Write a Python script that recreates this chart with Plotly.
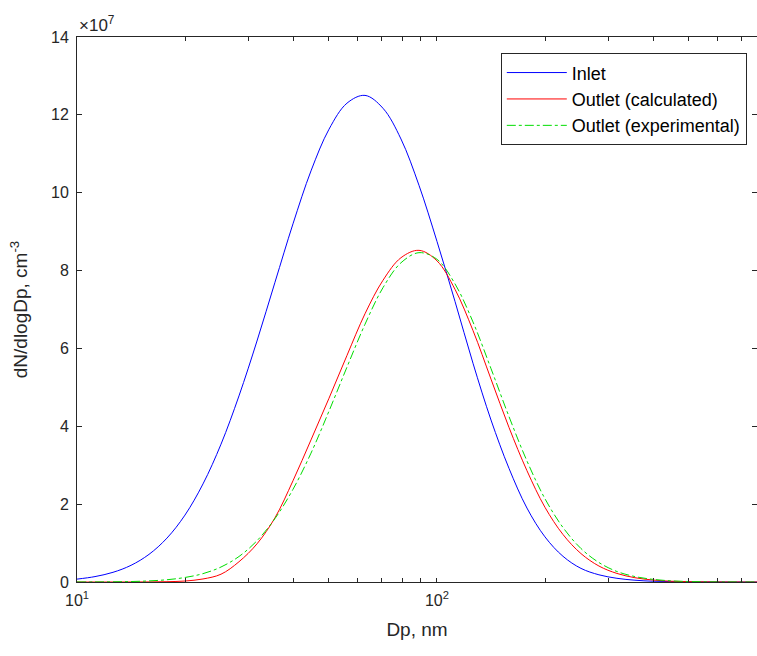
import plotly.graph_objects as go

# particle diameter, nm (log-spaced samples)
dp = [10.0, 11.22, 12.59, 14.13, 15.85, 17.78, 19.95, 22.39, 25.12, 28.18,
      31.62, 35.48, 39.81, 44.67, 50.12, 56.23, 63.10, 70.79, 79.43, 89.13,
      100.0, 112.2, 125.9, 141.3, 158.5, 177.8, 199.5, 223.9, 251.2, 281.8,
      316.2, 354.8, 398.1, 446.7, 501.2, 562.3, 631.0, 707.9, 794.3]

# dN/dlogDp in units of 1e7 cm^-3
inlet = [0.074, 0.139, 0.249, 0.429, 0.710, 1.128, 1.719, 2.52, 3.54, 4.78,
         6.19, 7.70, 9.20, 10.56, 11.63, 12.30, 12.50, 12.17, 11.38, 10.19,
         8.75, 7.21, 5.62, 4.16, 2.92, 1.90, 1.16, 0.66, 0.35, 0.185,
         0.095, 0.046, 0.02, 0.01, 0.005, 0.002, 0.001, 0.0, 0.0]

outlet_calc = [0.0, 0.0, 0.0, 0.001, 0.002, 0.008, 0.025, 0.078, 0.20, 0.52,
               0.98, 1.65, 2.60, 3.65, 4.72, 5.82, 6.89, 7.75, 8.33, 8.52,
               8.25, 7.52, 6.46, 5.21, 3.97, 2.86, 1.92, 1.22, 0.73, 0.41,
               0.22, 0.11, 0.051, 0.02, 0.008, 0.003, 0.001, 0.0, 0.0]

outlet_exp = [0.001, 0.002, 0.005, 0.012, 0.028, 0.058, 0.116, 0.215, 0.385, 0.655,
              1.06, 1.63, 2.38, 3.31, 4.39, 5.52, 6.62, 7.56, 8.20, 8.46,
              8.29, 7.66, 6.68, 5.48, 4.25, 3.11, 2.14, 1.40, 0.86, 0.50,
              0.27, 0.14, 0.068, 0.03, 0.012, 0.005, 0.002, 0.001, 0.0]

xtick_vals = [10, 20, 30, 40, 50, 60, 70, 80, 90, 100, 200, 300, 400, 500, 600, 700]
xtick_text = ["10<sup>1</sup>", "", "", "", "", "", "", "", "", "10<sup>2</sup>",
              "", "", "", "", "", ""]

axcol = "#262626"
fam = "Liberation Sans, Arial, sans-serif"
fnt = dict(family=fam, size=16, color=axcol)

fig = go.Figure()
fig.add_trace(go.Scatter(x=dp, y=inlet, mode="lines", name="Inlet",
                         line=dict(color="#0000ff", width=1, shape="spline")))
fig.add_trace(go.Scatter(x=dp, y=outlet_calc, mode="lines", name="Outlet (calculated)",
                         line=dict(color="#ff0000", width=1, shape="spline")))
fig.add_trace(go.Scatter(x=dp, y=outlet_exp, mode="lines", name="Outlet (experimental)",
                         line=dict(color="#00dd00", width=1, shape="spline", dash="dashdot")))

fig.update_layout(
    width=757, height=656,
    margin=dict(l=77, r=0, t=37, b=74, autoexpand=False),
    paper_bgcolor="white", plot_bgcolor="white",
    font=fnt,
    showlegend=True,
    legend=dict(x=0.985, y=0.97, xanchor="right", yanchor="top",
                bgcolor="white", bordercolor=axcol, borderwidth=1, itemwidth=60,
                font=dict(family=fam, size=18, color="black")),
    annotations=[dict(text="\u00d710<sup>7</sup>", xref="paper", yref="paper",
                      x=0, y=1, xanchor="left", yanchor="bottom", showarrow=False,
                      font=dict(family=fam, size=17, color=axcol))],
)
fig.update_xaxes(type="log", range=[1, 2.889], tickvals=xtick_vals, ticktext=xtick_text,
                 ticks="inside", ticklen=4, tickcolor=axcol, showline=True, linecolor=axcol,
                 linewidth=1, mirror="ticks", showgrid=False, zeroline=False,
                 automargin=False, ticklabelstandoff=4,
                 title=dict(text="Dp, nm", standoff=14))
fig.update_yaxes(range=[0, 14], dtick=2, ticks="inside", ticklen=5, tickcolor=axcol,
                 showline=True, linecolor=axcol, linewidth=1, mirror="ticks",
                 showgrid=False, zeroline=False, automargin=False, ticklabelstandoff=4,
                 title=dict(text="dN/dlogDp, cm<sup>-3</sup>", standoff=18))

# page body has a default 8px margin; remove it so the figure fills the window
fig.write_html("out.html", config={"displayModeBar": False},
               post_script="document.body.style.margin='0px';")
